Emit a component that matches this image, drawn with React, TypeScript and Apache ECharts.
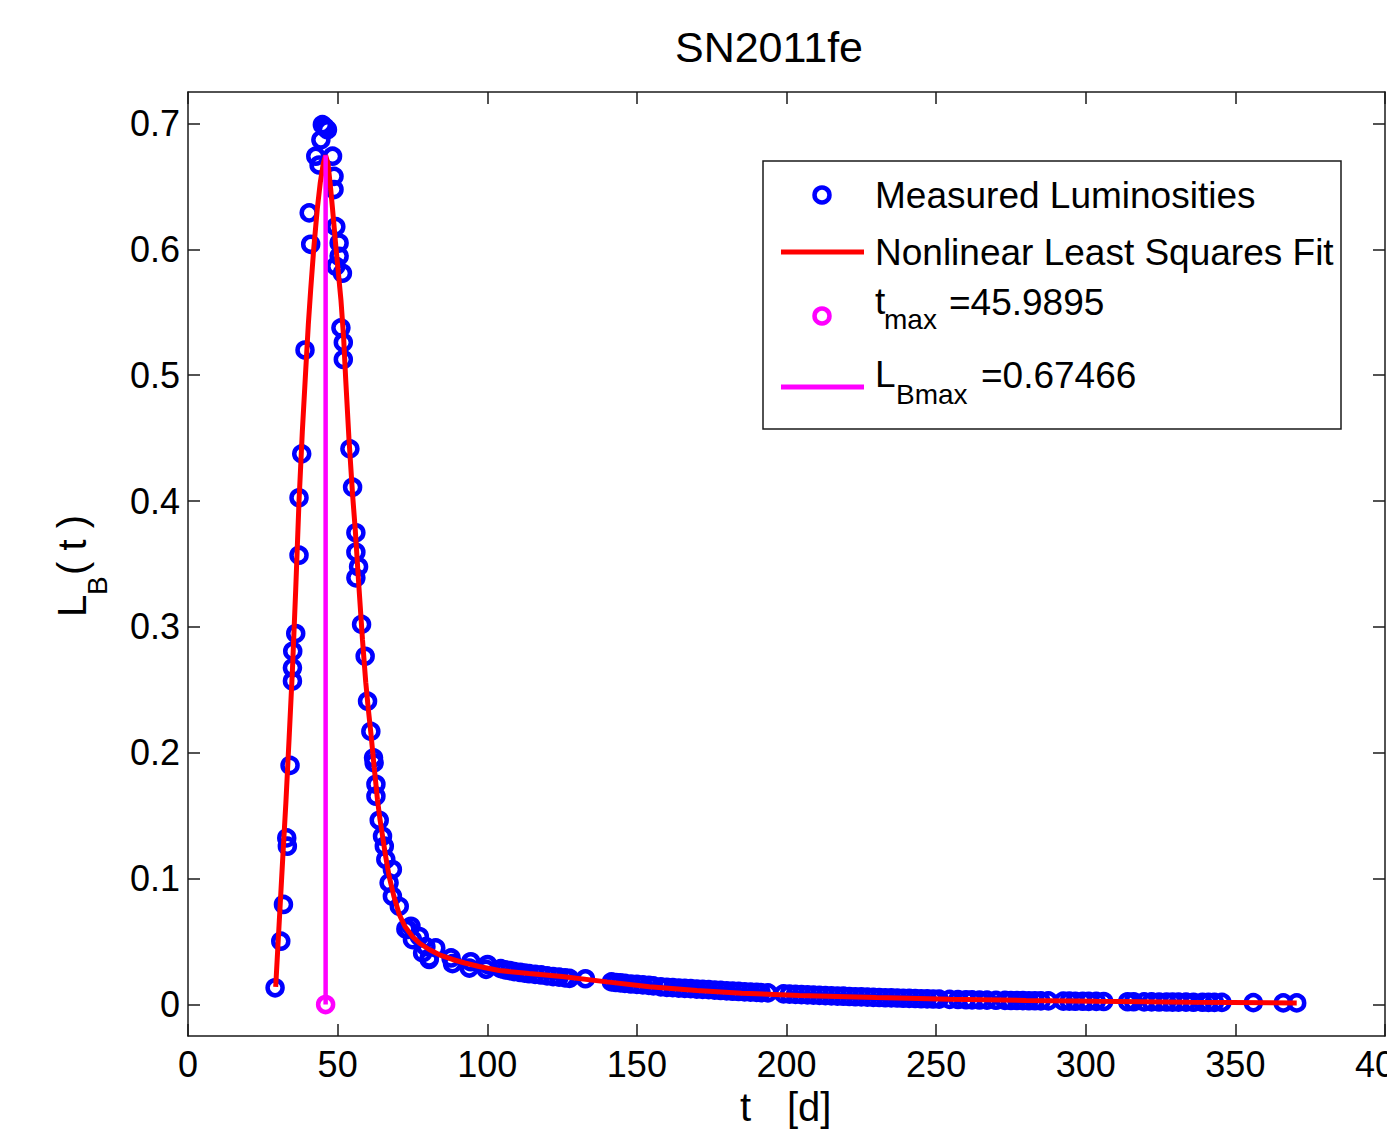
import React, { useEffect, useRef } from "react";
import * as echarts from "echarts";

// ---- Data ----
const tMeas = [
  29.1, 31.0, 31.9, 33.0, 33.2, 34.1, 34.9, 34.9, 35.0, 36.0,
  37.1, 37.1, 38.0, 39.1, 40.5, 41.0, 42.7, 43.8, 44.4, 44.9,
  45.8, 46.6, 48.3, 48.8, 48.8, 49.4, 49.4, 50.5, 50.5, 51.6,
  51.1, 51.9, 51.9, 54.1, 55.0, 56.1, 56.1, 57.0, 56.1, 58.0,
  59.2, 60.0, 61.1, 62.0, 62.2, 62.8, 62.8, 63.9, 65.0, 65.6,
  66.1, 68.3, 67.2, 68.3, 70.6, 72.8, 73.4, 74.5, 75.0, 77.3,
  78.4, 79.5, 80.6, 80.6, 82.8, 87.9, 88.4, 94.5, 94.0, 100.1,
  99.6,
];
const lMeas = [
  0.0133, 0.0503, 0.0795, 0.1324, 0.1258, 0.19, 0.257, 0.2675, 0.2807, 0.2948,
  0.357, 0.4026, 0.4375, 0.52, 0.629, 0.604, 0.674, 0.667, 0.687, 0.699,
  0.697, 0.695, 0.674, 0.658, 0.6475, 0.618, 0.5866, 0.605, 0.5945, 0.581,
  0.5376, 0.526, 0.5125, 0.4415, 0.411, 0.3748, 0.3594, 0.3478, 0.339, 0.302,
  0.2767, 0.241, 0.217, 0.196, 0.192, 0.175, 0.1655, 0.1464, 0.1337, 0.1258,
  0.1152, 0.1073, 0.0967, 0.086, 0.078, 0.06, 0.0596, 0.0622, 0.0516, 0.054,
  0.041, 0.046, 0.0358, 0.037, 0.045, 0.037, 0.0325, 0.034, 0.029, 0.0318,
  0.028,
];

const tTail = [
  104.5, 106, 107.5, 109, 111, 112.5, 114, 116, 118, 120, 122, 124, 126, 127.5,
  132.8,
  141.5, 143, 144.5, 146, 148, 150, 152, 154, 155.5,
  158, 160, 162, 164, 166, 168, 170, 172, 174, 176, 178, 180, 182, 184, 186, 188, 190, 191.5,
  193.8,
  199, 201, 203, 205, 207, 209, 211, 213, 215, 217, 219, 221, 223, 225, 227, 229, 231, 233, 235, 237, 239, 241, 243, 245, 247, 249, 251,
  254.5, 257.3, 260, 262, 264.5, 267, 270, 273, 275, 277, 279, 281, 283, 285, 287.5,
  292.5, 294.5, 296.5, 299, 301, 303.5, 306,
  314, 316, 319.5, 322, 324.5, 327, 329, 331, 333.5, 336, 339, 341, 343, 345.5,
  356, 366, 370.5,
];
const lTail = [
  0.0285, 0.0275, 0.027, 0.0262, 0.0255, 0.025, 0.0245, 0.024, 0.0235, 0.0228, 0.0222, 0.0218, 0.0212, 0.0208,
  0.0205,
  0.018, 0.0175, 0.0172, 0.0168, 0.0163, 0.016, 0.0156, 0.0152, 0.0148,
  0.014, 0.0137, 0.0134, 0.0131, 0.0128, 0.0126, 0.0123, 0.012, 0.0118, 0.0115, 0.0112, 0.0109, 0.0106, 0.0104, 0.0101, 0.0099, 0.0097, 0.0095,
  0.0093,
  0.0085, 0.0083, 0.0081, 0.0079, 0.0077, 0.0075, 0.0073, 0.0071, 0.0069, 0.0067, 0.0066, 0.0064, 0.0062, 0.0061, 0.0059, 0.0057, 0.0056, 0.0054, 0.0053, 0.0052, 0.005, 0.0049, 0.0048, 0.0046, 0.0045, 0.0044, 0.0043,
  0.0041, 0.004, 0.0038, 0.0037, 0.0036, 0.0035, 0.0034, 0.0033, 0.0032, 0.0032, 0.0031, 0.003, 0.003, 0.0029, 0.0029,
  0.0027, 0.0027, 0.0026, 0.0026, 0.0025, 0.0025, 0.0024,
  0.0022, 0.0022, 0.0021, 0.0021, 0.002, 0.002, 0.0019, 0.0019, 0.0019, 0.0018, 0.0018, 0.0017, 0.0017, 0.0017,
  0.0015, 0.0013, 0.0013,
];

const tFit = [
  29.3, 30.5, 31.7, 32.7, 33.8, 34.9, 36.0, 37.1, 38.2, 39.35,
  40.2, 41.0, 42.0, 43.2, 44.2, 45.2, 45.9895, 46.8, 47.6, 48.3,
  49.4, 50.3, 51.1, 52.0, 52.7, 53.8, 55.0, 55.9, 57.0, 58.3,
  59.4, 60.2, 61.1, 62.2, 63.3, 64.1, 65.0, 66.1, 67.2, 68.8,
  70.6, 72.5, 75.0, 77.5, 80.6, 84, 88.4, 92.5, 97.3, 104,
  114, 125, 140, 154.2, 170, 185, 204.3, 230, 254.5, 280,
  303.6, 335, 370.5,
];
const lFit = [
  0.014, 0.066, 0.118, 0.16, 0.212, 0.266, 0.33, 0.4, 0.455, 0.5045,
  0.54, 0.568, 0.6, 0.632, 0.653, 0.668, 0.67466, 0.668, 0.65, 0.632,
  0.6025, 0.58, 0.56, 0.53, 0.4966, 0.449, 0.405, 0.377, 0.336, 0.29,
  0.256, 0.236, 0.216, 0.189, 0.163, 0.148, 0.134, 0.117, 0.102, 0.086,
  0.0715, 0.062, 0.054, 0.0485, 0.0437, 0.0395, 0.0358, 0.033, 0.0302, 0.027,
  0.0246, 0.0222, 0.018, 0.0141, 0.0112, 0.009, 0.0072, 0.0055, 0.0042, 0.0033,
  0.0026, 0.0019, 0.0013,
];

const tMax = 45.9895;
const lBMax = 0.67466;

const yTicks = [0, 0.1, 0.2, 0.3, 0.4, 0.5, 0.6, 0.7];

const FONT = "'Liberation Sans', Arial, Helvetica, sans-serif";
const AXIS_COLOR = "#1a1a1a";

export default function App() {
  const ref = useRef<HTMLDivElement>(null);

  useEffect(() => {
    if (!ref.current) return;
    const chart = echarts.init(ref.current, null, { renderer: "svg" });

    const measured = tMeas.map((t, i) => [t, lMeas[i]]).concat(tTail.map((t, i) => [t, lTail[i]]));
    const fit = tFit.map((t, i) => [t, lFit[i]]);

    const axisLineStyle = { color: AXIS_COLOR, width: 1.5 };
    const xBase = {
      type: "value",
      min: 0,
      max: 400,
      interval: 50,
      splitLine: { show: false },
      axisLine: { show: true, onZero: false, lineStyle: axisLineStyle },
      axisTick: { show: true, inside: true, length: 12, lineStyle: axisLineStyle },
    };
    const yBase = {
      type: "value",
      min: -0.025,
      max: 0.725,
      splitLine: { show: false },
      axisLine: { show: true, onZero: false, lineStyle: axisLineStyle },
      axisTick: { show: true, inside: true, length: 12, lineStyle: axisLineStyle, customValues: yTicks },
    };

    const circleStyle = (c: string) => ({
      color: "rgba(0,0,0,0)",
      borderColor: c,
      borderWidth: 4.5,
      opacity: 1,
    });

    chart.setOption({
      animation: false,
      backgroundColor: "#ffffff",
      grid: { left: 188, right: 2, top: 92, bottom: 103, containLabel: false, outerBoundsMode: "none" },
      xAxis: [
        {
          ...xBase,
          position: "bottom",
          axisLabel: {
            show: true,
            fontSize: 36,
            fontFamily: FONT,
            color: "#000",
            margin: 10,
            showMaxLabel: true,
            showMinLabel: true,
            hideOverlap: false,
          },
        },
        { ...xBase, position: "top", axisLabel: { show: false } },
      ],
      yAxis: [
        {
          ...yBase,
          position: "left",
          axisLabel: {
            show: true,
            fontSize: 36,
            fontFamily: FONT,
            color: "#000",
            margin: 8,
            customValues: yTicks,
            formatter: (v: number) => (Math.abs(v) < 1e-9 ? "0" : v.toFixed(1)),
          },
        },
        { ...yBase, position: "right", axisLabel: { show: false } },
      ],
      series: [
        {
          name: "Measured Luminosities",
          type: "scatter",
          data: measured,
          symbol: "circle",
          symbolSize: 15,
          itemStyle: circleStyle("#0000ff"),
          z: 2,
        },
        {
          name: "Nonlinear Least Squares Fit",
          type: "line",
          data: fit,
          showSymbol: false,
          smooth: false,
          lineStyle: { color: "#ff0000", width: 5 },
          z: 3,
        },
        {
          name: "tmax",
          type: "scatter",
          data: [[tMax, 0]],
          symbol: "circle",
          symbolSize: 15,
          itemStyle: circleStyle("#ff00ff"),
          z: 4,
        },
        {
          name: "LBmax",
          type: "line",
          data: [
            [tMax, 0],
            [tMax, lBMax],
          ],
          showSymbol: false,
          lineStyle: { color: "#ff00ff", width: 4.5 },
          z: 4,
        },
      ],
      graphic: [
        // title
        {
          type: "text",
          x: 769,
          y: 47,
          style: { text: "SN2011fe", font: `43px ${FONT}`, fill: "#000", align: "center", verticalAlign: "middle" },
        },
        // x axis label
        {
          type: "text",
          x: 740,
          y: 1107,
          style: { text: "t", font: `40px ${FONT}`, fill: "#000", align: "left", verticalAlign: "middle" },
        },
        {
          type: "text",
          x: 787,
          y: 1107,
          style: { text: "[d]", font: `40px ${FONT}`, fill: "#000", align: "left", verticalAlign: "middle" },
        },
        // y axis label (rotated)
        {
          type: "group",
          x: 72,
          y: 617,
          rotation: Math.PI / 2,
          children: [
            {
              type: "text",
              x: 0,
              y: 0,
              style: { text: "L", font: `40px ${FONT}`, fill: "#000", align: "left", verticalAlign: "middle" },
            },
            {
              type: "text",
              x: 22,
              y: 25,
              style: { text: "B", font: `28px ${FONT}`, fill: "#000", align: "left", verticalAlign: "middle" },
            },
            {
              type: "text",
              x: 42,
              y: 0,
              style: { text: "( t )", font: `40px ${FONT}`, fill: "#000", align: "left", verticalAlign: "middle" },
            },
          ],
        },
        // legend
        {
          type: "group",
          z: 10,
          children: [
            {
              type: "rect",
              shape: { x: 763, y: 161, width: 578, height: 268 },
              style: { fill: "#fff", stroke: AXIS_COLOR, lineWidth: 1.5 },
            },
            {
              type: "circle",
              shape: { cx: 822, cy: 195, r: 7.5 },
              style: { fill: "none", stroke: "#0000ff", lineWidth: 4.5 },
            },
            {
              type: "text",
              x: 875,
              y: 195,
              style: { text: "Measured Luminosities", font: `37px ${FONT}`, fill: "#000", align: "left", verticalAlign: "middle" },
            },
            {
              type: "line",
              shape: { x1: 781, y1: 252, x2: 864, y2: 252 },
              style: { stroke: "#ff0000", lineWidth: 5 },
            },
            {
              type: "text",
              x: 875,
              y: 252,
              style: { text: "Nonlinear Least Squares Fit", font: `37px ${FONT}`, fill: "#000", align: "left", verticalAlign: "middle" },
            },
            {
              type: "circle",
              shape: { cx: 822, cy: 316, r: 7.5 },
              style: { fill: "none", stroke: "#ff00ff", lineWidth: 4.5 },
            },
            {
              type: "text",
              x: 875,
              y: 301,
              style: { text: "t", font: `37px ${FONT}`, fill: "#000", align: "left", verticalAlign: "middle" },
            },
            {
              type: "text",
              x: 884,
              y: 319,
              style: { text: "max", font: `28px ${FONT}`, fill: "#000", align: "left", verticalAlign: "middle" },
            },
            {
              type: "text",
              x: 949,
              y: 302,
              style: { text: "=45.9895", font: `37px ${FONT}`, fill: "#000", align: "left", verticalAlign: "middle" },
            },
            {
              type: "line",
              shape: { x1: 781, y1: 387, x2: 864, y2: 387 },
              style: { stroke: "#ff00ff", lineWidth: 5 },
            },
            {
              type: "text",
              x: 875,
              y: 374,
              style: { text: "L", font: `37px ${FONT}`, fill: "#000", align: "left", verticalAlign: "middle" },
            },
            {
              type: "text",
              x: 896,
              y: 394,
              style: { text: "Bmax", font: `28px ${FONT}`, fill: "#000", align: "left", verticalAlign: "middle" },
            },
            {
              type: "text",
              x: 981,
              y: 375,
              style: { text: "=0.67466", font: `37px ${FONT}`, fill: "#000", align: "left", verticalAlign: "middle" },
            },
          ],
        },
      ],
    });

    return () => {
      chart.dispose();
    };
  }, []);

  return (
    <div
      ref={ref}
      style={{ position: "absolute", left: 0, top: 0, width: 1387, height: 1139, background: "#fff" }}
    />
  );
}
